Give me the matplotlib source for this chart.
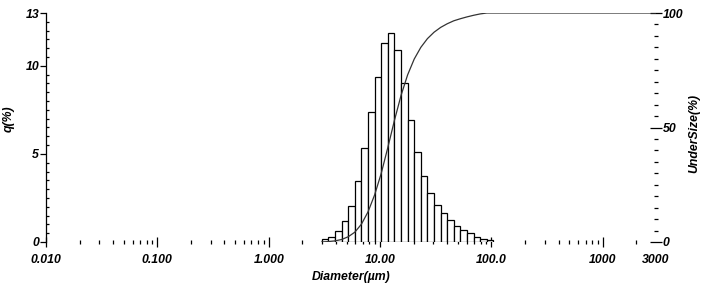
import numpy as np
import matplotlib
matplotlib.use("Agg")
import matplotlib.pyplot as plt
from matplotlib.ticker import FixedLocator, NullFormatter, LogLocator

# ---- data ----
bin_start = 3.0          # um, lower edge of first bin
bin_stop = 104.0         # um, upper edge of last bin
q_percent = [0.17, 0.30, 0.62, 1.17, 2.06, 3.48, 5.35, 7.40, 9.38, 11.28,
             11.85, 10.90, 9.00, 6.93, 5.13, 3.77, 2.80, 2.08, 1.63, 1.25,
             0.93, 0.68, 0.49, 0.30, 0.17, 0.11]
undersize = [0.0, 0.2, 0.5, 1.1, 2.3, 4.3, 7.8, 13.2, 20.6, 30.0, 41.3,
             53.1, 64.0, 73.0, 79.9, 85.0, 88.8, 91.6, 93.7, 95.3, 96.6,
             97.5, 98.3, 99.0, 99.6, 100.0, 100.0]
undersize_tail_x = [3000.0]
undersize_tail_y = [100.0]

x_ticks = [0.01, 0.1, 1, 10, 100, 1000, 3000]
x_ticklabels = ["0.010", "0.100", "1.000", "10.00", "100.0", "1000", "3000"]
q_ticks = [0, 5, 10, 13]
u_ticks = [0, 50, 100]

edges = np.geomspace(bin_start, bin_stop, len(q_percent) + 1)

fig = plt.figure(figsize=(7.03, 2.94), dpi=100)
ax = fig.add_axes([46 / 703, 1 - 242 / 294, (656 - 46) / 703, (242 - 13) / 294])
ax2 = ax.twinx()

font = dict(family="Liberation Sans", weight="bold", style="italic", size=8.8)

# histogram
ax.bar(edges[:-1], q_percent, width=np.diff(edges), align="edge",
       facecolor="white", edgecolor="black", linewidth=0.9, zorder=2)
ax.set_xscale("log")
ax.set_xlim(0.01, 3000)
ax.set_ylim(0, 13)

# cumulative curve
ux = list(edges) + undersize_tail_x
uy = list(undersize) + undersize_tail_y
ax2.plot(ux, uy, color="#333333", linewidth=0.9, zorder=3)
ax2.set_ylim(0, 100)
ax2.set_xlim(0.01, 3000)

# spines
for s in ["top", "bottom", "right"]:
    ax.spines[s].set_visible(False)
for s in ["top", "bottom", "left", "right"]:
    ax2.spines[s].set_visible(False)
ax.spines["left"].set_linewidth(0.9)

# x ticks
ax.xaxis.set_major_locator(FixedLocator(x_ticks))
ax.set_xticklabels(x_ticklabels, **font)
ax.xaxis.set_minor_locator(LogLocator(base=10, subs=np.arange(2, 10), numticks=20))
ax.xaxis.set_minor_formatter(NullFormatter())
ax.tick_params(axis="x", which="major", direction="inout", length=7, width=0.9, pad=5)
ax.tick_params(axis="x", which="minor", direction="inout", length=2.5, width=0.9)
# no tick mark at the 3000 end, only its label
ax.xaxis.get_major_ticks()[-1].tick1line.set_visible(False)

# left y ticks
ax.yaxis.set_major_locator(FixedLocator(q_ticks))
ax.set_yticklabels([str(t) for t in q_ticks], **font)
ax.yaxis.set_minor_locator(FixedLocator(np.arange(0, 13.01, 0.5)))
ax.tick_params(axis="y", which="major", direction="out", length=4, width=0.9, pad=1)
ax.tick_params(axis="y", which="minor", direction="in", length=2.5, width=0.9)

# right y ticks
ax2.yaxis.set_major_locator(FixedLocator(u_ticks))
ax2.set_yticklabels([str(t) for t in u_ticks], **font)
ax2.yaxis.set_minor_locator(FixedLocator(np.arange(0, 100.1, 5)))
ax2.tick_params(axis="y", which="major", direction="inout", length=8, width=0.9, pad=1)
ax2.tick_params(axis="y", which="minor", direction="inout", length=3, width=0.9)

ax.set_xlabel("Diameter(µm)", labelpad=4, **font)
ax.set_ylabel("q(%)", **font)
ax2.set_ylabel("UnderSize(%)", **font)
ax.yaxis.set_label_coords(-0.052, 0.54)
ax2.yaxis.set_label_coords(1.053, 0.476)

fig.savefig("out.png", dpi=100)
